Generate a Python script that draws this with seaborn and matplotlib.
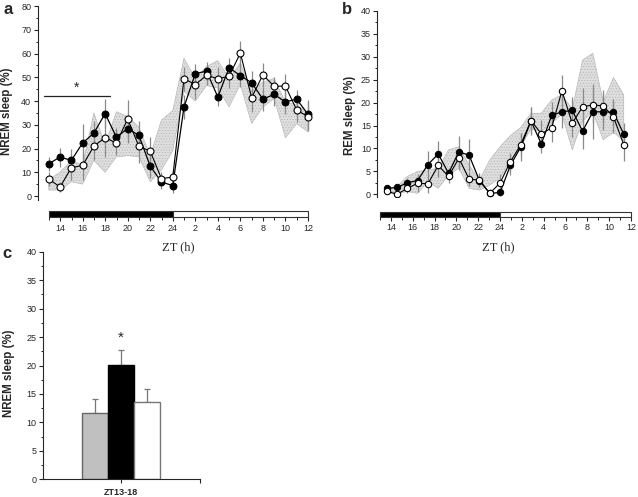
"""
Sleep time course (NREM / REM) across the light-dark cycle + ZT13-18 summary
"""
import numpy as np
import pandas as pd
import matplotlib
matplotlib.use("Agg")
import matplotlib.pyplot as plt
import seaborn as sns

# ZT hours, 13..36 means ZT13 of day 1 up to ZT12 of day 2
zt_hours = list(range(13, 37))
zt_tick_pos = list(range(14, 37, 2))
zt_minor_pos = list(range(13, 36, 2))
zt_tick_labels = ["14", "16", "18", "20", "22", "24", "2", "4", "6", "8", "10", "12"]
# light / dark bar under the time axes: (start, length, colour)
dark_phase = (13, 11, "black")
light_phase = (24, 12, "white")

# panel a - NREM sleep (%)
nrem_black = [13.6, 16.4, 15.0, 22.3, 26.5, 34.7, 24.8, 28.4, 25.5, 12.6, 5.9, 4.4,
              37.5, 51.5, 52.6, 41.7, 54.0, 50.7, 47.7, 40.8, 42.8, 39.6, 40.8, 34.4]
nrem_black_err = [3, 4, 5, 8, 5, 6, 4, 6, 6, 5, 3, 3,
                  5, 4, 4, 4, 4, 5, 5, 5, 5, 5, 4, 6]
nrem_open = [7.2, 3.8, 11.9, 12.9, 21.0, 24.6, 22.3, 32.4, 20.9, 18.9, 7.3, 8.0,
             49.4, 46.9, 50.8, 49.4, 50.4, 60.2, 41.4, 51.0, 46.2, 46.3, 36.2, 33.4]
nrem_open_err = [3, 2, 5, 6, 6, 8, 5, 8, 7, 6, 3, 3,
                 5, 6, 4, 5, 5, 5, 6, 5, 4, 5, 5, 6]
nrem_band_hi = [7, 10, 15, 13, 35, 21.5, 35.5, 33.5, 29, 17, 32, 36,
                58, 49.5, 54.5, 57, 49.5, 56, 44, 48, 49.5, 39.5, 38.5, 35]
nrem_band_lo = [2.5, 2.5, 6, 5, 15, 10, 16.5, 17, 16.5, 6, 11, 19,
                44, 40, 46.5, 45.5, 37.5, 47, 30.5, 37.5, 41, 24.5, 30.5, 27]

# panel b - REM sleep (%), points sit on their own index scale
rem_black = [1.3, 1.5, 2.5, 3.0, 6.5, 8.8, 4.6, 9.3, 8.5, 3.0, 0.2, 0.4,
             6.3, 10.3, 16.0, 11.0, 17.2, 18.0, 18.3, 13.8, 18.0, 18.0, 17.9, 13.1]
rem_black_err = [0.5, 0.6, 1.0, 1.2, 3.0, 2.8, 1.2, 3.5, 3.5, 1.5, 0.5, 0.8,
                 2, 3, 3, 2, 3, 3.5, 3, 4, 6, 4, 3, 2.5]
rem_open = [0.7, 0.0, 1.3, 2.4, 2.3, 6.3, 3.9, 7.9, 3.3, 3.1, 0.2, 2.5,
            7.1, 10.8, 16.1, 13.2, 14.5, 22.6, 15.5, 19.1, 19.5, 19.3, 16.9, 10.8]
rem_open_err = [0.5, 0.5, 1, 2, 2, 2.5, 1.5, 2.5, 1.5, 1.5, 0.5, 2,
                2, 2.5, 3, 3, 3, 3.5, 3, 4, 4, 3.5, 3.5, 3.5]
rem_band_hi = [1.0, 1.7, 3.9, 5.0, 5.3, 5.7, 9.7, 10.4, 6.4, 3.1, 7.5, 10.4,
               12.8, 14.6, 17.7, 17.7, 20.6, 21.7, 18.6, 29.3, 30.8, 20.2, 25.5, 21.7]
rem_band_lo = [0.2, 0.2, 0.6, 0.2, 2.8, 1.3, 4.2, 5.7, 1.3, 0.9, 2.0, 3.5,
               7.2, 10.4, 14.3, 13.7, 15.5, 17.5, 9.7, 16.0, 18.0, 11.9, 13.5, 11.7]
rem_index = np.arange(len(rem_black))

# panel c - mean NREM over ZT13-18
c_period = "ZT13-18"
c_groups = ["grey", "black", "white"]
c_values = [11.7, 20.1, 13.5]
c_err = [2.35, 2.6, 2.4]
c_colors = ["#c0c0c0", "black", "white"]
c_edges = ["#666666", "black", "#777777"]

W, H = 638, 497


def fig_rect(x0, y0, x1, y1):
    """pixel box (top-left origin) -> figure fraction rect"""
    return [x0 / W, 1 - y1 / H, (x1 - x0) / W, (y1 - y0) / H]


sns.set_style("ticks")
plt.rcParams['font.family'] = ['Liberation Sans', 'DejaVu Sans']
plt.rcParams['hatch.linewidth'] = 0.35

fig = plt.figure(figsize=(W / 100, H / 100), dpi=100)

TICK_FS = 6.5
LABEL_FS = 8.3
ERR_COL = "#8a8a8a"


def style_left_axis(ax, major, minor):
    for s in ["top", "right", "bottom"]:
        ax.spines[s].set_visible(False)
    ax.spines["left"].set_linewidth(0.8)
    ax.set_xticks([])
    ax.set_yticks(np.arange(0, ax.get_ylim()[1] + 0.01, major))
    ax.set_yticks(np.arange(0, ax.get_ylim()[1] + 0.01, minor), minor=True)
    ax.tick_params(axis="y", which="major", length=3, width=0.8, labelsize=TICK_FS, pad=1.5)
    ax.tick_params(axis="y", which="minor", length=1.8, width=0.7)


def draw_time_course(ax, x, black, black_err, opn, opn_err, hi, lo, ms):
    ax.fill_between(x, lo, hi, facecolor="#dedede", edgecolor="#b0b0b0",
                    hatch="......", linewidth=0.4, zorder=1)
    ax.errorbar(x, black, yerr=black_err, fmt="none", ecolor=ERR_COL,
                elinewidth=0.9, capsize=0, zorder=2)
    ax.errorbar(x, opn, yerr=opn_err, fmt="none", ecolor=ERR_COL,
                elinewidth=0.9, capsize=0, zorder=2)
    sns.lineplot(x=x, y=black, ax=ax, color="black", lw=0.9, marker="o",
                 markersize=ms, markerfacecolor="black", markeredgecolor="black",
                 markeredgewidth=0.7, zorder=3)
    sns.lineplot(x=x, y=opn, ax=ax, color="black", lw=0.8, marker="o",
                 markersize=ms, markerfacecolor="white", markeredgecolor="black",
                 markeredgewidth=0.8, zorder=4)
    ax.set_xlabel("")
    ax.set_ylabel("")


def draw_light_dark(rect):
    axb = fig.add_axes(rect)
    for start, length, col in [dark_phase, light_phase]:
        axb.barh(0.5, length, left=start, height=1, color=col,
                 edgecolor="#333333", linewidth=0.8, clip_on=False)
    axb.set_xlim(13, 36)
    axb.set_ylim(0, 1)
    for s in axb.spines.values():
        s.set_visible(False)
    axb.set_yticks([])
    axb.set_xticks(zt_tick_pos, zt_tick_labels)
    axb.set_xticks(zt_minor_pos, minor=True)
    axb.tick_params(axis="x", which="major", length=3.2, width=0.8, labelsize=TICK_FS, pad=1.5)
    axb.tick_params(axis="x", which="minor", length=2, width=0.7)
    return axb


# ---------------- panel a ----------------
ax_a = fig.add_axes(fig_rect(37.5, 6, 313.6, 199.6))
ax_a.set_xlim(12, 36.5)
ax_a.set_ylim(-1.5, 80)
draw_time_course(ax_a, zt_hours, nrem_black, nrem_black_err, nrem_open, nrem_open_err,
                 nrem_band_hi, nrem_band_lo, ms=5)
style_left_axis(ax_a, 10, 5)
ax_a.set_ylabel("NREM sleep (%)", fontsize=LABEL_FS, fontweight="bold")
ax_a.yaxis.set_label_coords(-0.087, 0.455)
ax_a.plot([12.55, 18.4], [42, 42], color="#222222", lw=0.9)
ax_a.text(15.5, 45.5, "*", ha="center", va="center", fontsize=10)

draw_light_dark(fig_rect(49, 210.5, 308, 217.5))

# ---------------- panel b ----------------
ax_b = fig.add_axes(fig_rect(377.3, 11, 631, 196.6))
ax_b.set_xlim(-0.91, 23.7)
ax_b.set_ylim(-0.5, 40)
draw_time_course(ax_b, rem_index, rem_black, rem_black_err, rem_open, rem_open_err,
                 rem_band_hi, rem_band_lo, ms=4.6)
style_left_axis(ax_b, 5, 2.5)
ax_b.set_ylabel("REM sleep (%)", fontsize=LABEL_FS, fontweight="bold")
ax_b.yaxis.set_label_coords(-0.084, 0.44)

draw_light_dark(fig_rect(380, 211.5, 631, 216.8))

# ---------------- panel c ----------------
ax_c = fig.add_axes(fig_rect(42.7, 251.7, 199.6, 479.3))
df_c = pd.DataFrame({"period": [c_period] * len(c_groups),
                     "group": c_groups, "value": c_values})
sns.barplot(data=df_c, x="period", y="value", hue="group", hue_order=c_groups,
            palette=c_colors, saturation=1, width=1.0, errorbar=None,
            legend=False, ax=ax_c, linewidth=1.0, zorder=2)
bars = sorted(ax_c.patches, key=lambda p: p.get_x())
centers = []
for p, ec in zip(bars, c_edges):
    p.set_edgecolor(ec)
    centers.append(p.get_x() + p.get_width() / 2)
ax_c.errorbar(centers, c_values, yerr=[np.zeros(len(c_err)), c_err], fmt="none",
              ecolor="#777777", elinewidth=0.9, capsize=2, capthick=0.9, zorder=1)
ax_c.text(centers[1], c_values[1] + c_err[1] + 2.2, "*", ha="center", va="center", fontsize=11)
ax_c.set_xlim(-1, 1)
ax_c.set_ylim(0, 40)
ax_c.spines["top"].set_visible(False)
ax_c.spines["right"].set_visible(False)
ax_c.spines["left"].set_linewidth(0.8)
ax_c.spines["bottom"].set_linewidth(0.8)
ax_c.set_yticks(np.arange(0, 40.1, 5))
ax_c.set_yticks(np.arange(0, 40.1, 2.5), minor=True)
ax_c.set_xticks([0, 1], [c_period, ""])
ax_c.tick_params(axis="y", which="major", length=3, width=0.8, labelsize=TICK_FS, pad=1.5)
ax_c.tick_params(axis="y", which="minor", length=1.8, width=0.7)
ax_c.tick_params(axis="x", length=3, width=0.8, labelsize=TICK_FS, pad=3)
for lab in ax_c.get_xticklabels():
    lab.set_fontweight("bold")
ax_c.set_xlabel("")
ax_c.set_ylabel("NREM sleep (%)", fontsize=LABEL_FS, fontweight="bold")
ax_c.yaxis.set_label_coords(-0.175, 0.467)

# axis titles and panel letters
for xc in (178, 498):
    fig.text(xc / W, 1 - 247 / H, "ZT (h)", ha="center", va="center",
             family=["Liberation Serif", "DejaVu Serif"], fontsize=9)
for letter, xc, yc in [("a", 8.5, 10), ("b", 347, 10), ("c", 7, 254)]:
    fig.text(xc / W, 1 - yc / H, letter, ha="center", va="center",
             fontsize=12, fontweight="bold")

fig.savefig("out.png", dpi=100)
